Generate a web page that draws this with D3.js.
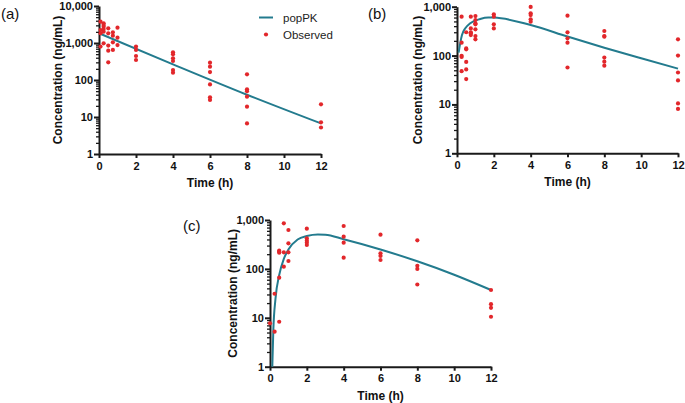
<!DOCTYPE html>
<html><head><meta charset="utf-8">
<script src="https://cdn.jsdelivr.net/npm/d3@7"></script>
<style>body{margin:0;background:#fff}svg{display:block}</style>
</head><body>
<svg id="c" width="685" height="403"></svg>
<script>
// ---------- DATA ----------
const xTicks = [0, 2, 4, 6, 8, 10, 12];
const yTicksA = [1, 10, 100, 1000, 10000];
const yTicksBC = [1, 10, 100, 1000];
const panelLabels = ["(a)", "(b)", "(c)"];
const legendLabels = ["popPK", "Observed"];

// Panel (a) observed
const obsTimeA = [0.083,0.083,0.083,0.083, 0.25,0.25,0.25,0.25,0.25,0.25, 0.5,0.5,0.5,0.5,0.5, 0.75,0.75,0.75,0.75, 1,1,1, 2,2,2,2, 4,4,4,4,4,4, 6,6,6,6,6,6, 8,8,8,8,8,8, 12,12,12];
const obsConcA = [3770,2240,1830,800, 3400,3060,2760,2390,2020,980, 2490,1830,850,620,300, 1940,1580,1040,650, 2590,1390,880, 800,650,445,347, 560,494,385,326,186,158, 294,229,164,76,34,29, 142,56,50,35.5,19,6.7, 22,7.2,5.2];
// Panel (a) popPK
const curveTimeA = [0, 4, 8, 12];
const curveConcA = [1830, 265, 40, 6.7];

// Panel (b) observed
const obsTimeB = [0.25,0.25,0.25,0.25,0.25, 0.5,0.5,0.5,0.5,0.5,0.5, 0.75,0.75,0.75,0.75,0.75, 1,1,1,1,1,1,1, 2,2,2,2, 4,4,4,4,4, 6,6,6,6,6, 8,8,8,8,8,8, 12,12,12,12,12,12];
const obsConcB = [625,184,99,94,48, 300,140,134,74,52,33, 625,360,299,285,263, 644,534,456,435,344,251,215, 697,625,435,360, 990,731,675,551,494, 655,299,225,184,57, 318,251,244,91,75,62, 215,100,45,31,10.5,8.1];
// Panel (b) popPK
const curveTimeB = [0.09, 0.18, 0.27, 0.45, 0.72, 1.26, 1.7, 2, 4, 6, 8, 10, 12];
const curveConcB = [115, 184, 264, 362, 458, 561, 600, 598, 422, 245, 145, 88, 54];

// Panel (c) observed
const obsTimeC = [0, 0.25,0.25, 0.5,0.5,0.5,0.5,0.5, 0.75,0.75,0.75, 1,1,1,1, 2,2,2,2,2, 4,4,4,4, 6,6,6,6, 8,8,8,8, 12,12,12,12];
const obsConcC = [7.7, 31,5.2, 236,225,214,66,8.3, 855,218,111, 625,333,218,145, 665,422,378,344,308, 754,456,344,170, 501,208,184,152, 384,116,100,48, 37,19,16,10.5];
// Panel (c) popPK
const curveTimeC = [0.125, 0.18, 0.3, 0.5, 0.75, 1, 1.5, 2, 2.6, 3, 4, 6, 8, 10, 12];
const curveConcC = [1, 5.5, 25, 75, 160, 250, 400, 470, 505, 500, 405, 250, 143, 76, 37];

// ---------- DRAW ----------
const svg = d3.select("#c");
const FONT = "Arial, 'Liberation Sans', sans-serif";
const TEAL = "#237b8e", RED = "#e2272b", AX = "#1a1a1a";
const fmt = d3.format(",");

function panel(cfg) {
  const g = svg.append("g");
  const x = d3.scaleLinear().domain([0, 12]).range([cfg.x0, cfg.x1]);
  const y = d3.scaleLog().domain([1, cfg.yMax]).range([cfg.yBot, cfg.yTop]);

  // minor ticks (log 2..9)
  const minor = [];
  for (let p = 1; p < cfg.yMax; p *= 10) for (let m = 2; m <= 9; m++) minor.push(p * m);
  g.append("g").attr("transform", `translate(${cfg.x0},0)`)
    .call(d3.axisLeft(y).tickValues(minor).tickSize(3).tickFormat(""))
    .call(a => a.select(".domain").remove())
    .call(a => a.selectAll("line").attr("stroke", AX).attr("stroke-width", 1.3));

  const ya = g.append("g").attr("transform", `translate(${cfg.x0},0)`)
    .call(d3.axisLeft(y).tickValues(cfg.yTicks).tickSize(5).tickSizeOuter(0).tickPadding(1).tickFormat(fmt));
  ya.select(".domain").attr("stroke", AX).attr("stroke-width", 2);
  ya.selectAll("line").attr("stroke", AX).attr("stroke-width", 2);
  ya.selectAll("text").attr("font-family", FONT).attr("font-size", 11).attr("font-weight", "bold").attr("fill", "#111");

  const xa = g.append("g").attr("transform", `translate(0,${cfg.yBot})`)
    .call(d3.axisBottom(x).tickValues(xTicks).tickSize(4).tickSizeOuter(0).tickPadding(4).tickFormat(d3.format("d")));
  xa.select(".domain").attr("stroke", AX).attr("stroke-width", 2);
  xa.selectAll("line").attr("stroke", AX).attr("stroke-width", 2);
  xa.selectAll("text").attr("font-family", FONT).attr("font-size", 11).attr("font-weight", "bold").attr("fill", "#111");

  // curve
  g.append("path").datum(d3.zip(cfg.ct, cfg.cc))
    .attr("d", d3.line().x(d => x(d[0])).y(d => y(d[1])).curve(d3.curveMonotoneX))
    .attr("fill", "none").attr("stroke", TEAL).attr("stroke-width", 2);

  // observed
  g.selectAll("circle.o").data(d3.zip(cfg.ot, cfg.oc)).join("circle")
    .attr("cx", d => x(d[0])).attr("cy", d => y(d[1])).attr("r", 2.1).attr("fill", RED);

  // titles
  g.append("text").attr("transform", `translate(${cfg.titleX},${(cfg.yTop + cfg.yBot) / 2}) rotate(-90)`)
    .attr("text-anchor", "middle").attr("dy", "0.35em")
    .attr("font-family", FONT).attr("font-size", 12).attr("font-weight", "bold").attr("fill", "#111")
    .text("Concentration (ng/mL)");
  g.append("text").attr("x", (cfg.x0 + cfg.x1) / 2).attr("y", cfg.yBot + 33)
    .attr("text-anchor", "middle")
    .attr("font-family", FONT).attr("font-size", 12).attr("font-weight", "bold").attr("fill", "#111")
    .text("Time (h)");
  g.append("text").attr("x", cfg.lx).attr("y", cfg.ly)
    .attr("font-family", FONT).attr("font-size", 15).attr("fill", "#111")
    .text(cfg.label);
  return { x, y, g };
}

panel({ x0: 99, x1: 321, yTop: 6, yBot: 154, yMax: 10000, yTicks: yTicksA,
  ot: obsTimeA, oc: obsConcA, ct: curveTimeA, cc: curveConcA, titleX: 58, label: panelLabels[0], lx: 1, ly: 19 });
panel({ x0: 457, x1: 678, yTop: 6.7, yBot: 153.3, yMax: 1000, yTicks: yTicksBC,
  ot: obsTimeB, oc: obsConcB, ct: curveTimeB, cc: curveConcB, titleX: 418, label: panelLabels[1], lx: 368, ly: 19 });
panel({ x0: 270, x1: 491, yTop: 220, yBot: 366.7, yMax: 1000, yTicks: yTicksBC,
  ot: obsTimeC, oc: obsConcC, ct: curveTimeC, cc: curveConcC, titleX: 233, label: panelLabels[2], lx: 183, ly: 231 });

// legend
const lg = svg.append("g");
lg.append("line").attr("x1", 259).attr("x2", 273).attr("y1", 17.5).attr("y2", 17.5).attr("stroke", TEAL).attr("stroke-width", 2);
lg.append("circle").attr("cx", 266).attr("cy", 34.5).attr("r", 2.1).attr("fill", RED);
lg.selectAll("text").data(legendLabels).join("text")
  .attr("x", 283).attr("y", (d, i) => 21.5 + i * 17)
  .attr("font-family", FONT).attr("font-size", 11.5).attr("fill", "#222").text(d => d);
</script>
</body></html>
